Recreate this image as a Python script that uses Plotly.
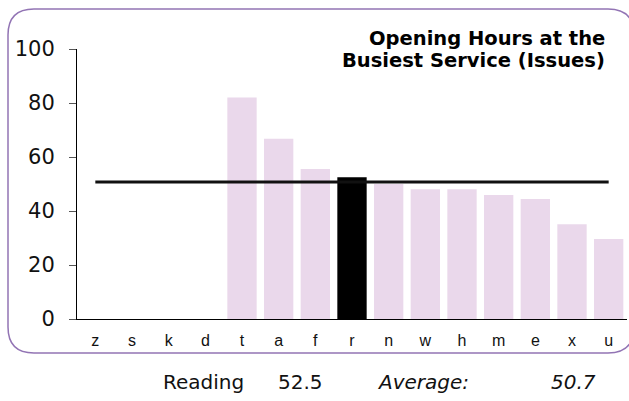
import plotly.graph_objects as go

categories = ["z", "s", "k", "d", "t", "a", "f", "r", "n", "w", "h", "m", "e", "x", "u"]
values = [0, 0, 0, 0, 82.0, 66.8, 55.6, 52.5, 50.0, 48.1, 48.1, 45.9, 44.4, 35.1, 29.6]
highlight = "r"
reading_value = 52.5
average_value = 50.7
y_ticks = [0, 20, 40, 60, 80, 100]
title_lines = ["Opening Hours at the", "Busiest Service (Issues)"]

W, H = 629, 401
L, R, T, B = 77, 2, 49, 82
PW, PH = W - L - R, H - T - B


def px(x):
    return (x - L) / PW


def py(y):
    return (H - B - y) / PH


PINK = "#EAD8EB"
bar_colors = ["#000000" if c == highlight else PINK for c in categories]

fig = go.Figure()
fig.add_trace(go.Bar(x=categories, y=values, marker=dict(color=bar_colors, line=dict(width=0)),
                     showlegend=False, hoverinfo="skip"))
fig.add_trace(go.Scatter(x=categories, y=[average_value] * len(categories), mode="lines",
                         line=dict(color="#111111", width=3), showlegend=False, hoverinfo="skip"))

# rounded border
x0, y0, x1, y1, r = 8, 9, 634, 353, 26
path = (f"M {px(x0 + r)},{py(y0)} L {px(x1 - r)},{py(y0)} "
        f"Q {px(x1)},{py(y0)} {px(x1)},{py(y0 + r)} L {px(x1)},{py(y1 - r)} "
        f"Q {px(x1)},{py(y1)} {px(x1 - r)},{py(y1)} L {px(x0 + r)},{py(y1)} "
        f"Q {px(x0)},{py(y1)} {px(x0)},{py(y1 - r)} L {px(x0)},{py(y0 + r)} "
        f"Q {px(x0)},{py(y0)} {px(x0 + r)},{py(y0)} Z")
fig.add_shape(type="path", path=path, xref="paper", yref="paper",
              line=dict(color="#9274B4", width=1.5), layer="below")

ann = []
for i, (line, yc) in enumerate(zip(title_lines, [38, 60])):
    ann.append(dict(text=f"<b>{line}</b>", x=px(607), y=py(yc), xref="paper", yref="paper",
                    xanchor="right", yanchor="middle", showarrow=False,
                    font=dict(family="DejaVu Sans", size=19.5, color="#000000")))
by = 382
ann.append(dict(text="Reading", x=px(161), y=py(by), xref="paper", yref="paper", xanchor="left",
                yanchor="middle", showarrow=False, font=dict(family="DejaVu Sans", size=20, color="#111")))
ann.append(dict(text=f"{reading_value}", x=px(325), y=py(by), xref="paper", yref="paper", xanchor="right",
                yanchor="middle", showarrow=False, font=dict(family="DejaVu Sans", size=20, color="#111")))
ann.append(dict(text="<i>Average:</i>", x=px(375), y=py(by), xref="paper", yref="paper", xanchor="left",
                yanchor="middle", showarrow=False, font=dict(family="DejaVu Sans", size=20, color="#111")))
ann.append(dict(text=f"<i>{average_value}</i>", x=px(598), y=py(by), xref="paper", yref="paper", xanchor="right",
                yanchor="middle", showarrow=False, font=dict(family="DejaVu Sans", size=20, color="#111")))

fig.update_layout(
    width=W, height=H, margin=dict(l=L, r=R, t=T, b=B, autoexpand=False),
    paper_bgcolor="white", plot_bgcolor="white", bargap=0.2,
    annotations=ann,
    xaxis=dict(type="category", categoryorder="array", categoryarray=categories,
               showline=True, linecolor="#000000", linewidth=1, showgrid=False, ticks="",
               tickfont=dict(family="Liberation Sans", size=16, color="#111"), zeroline=False,
               ticklabelstandoff=7),
    yaxis=dict(range=[0, 100], tickvals=y_ticks, showline=True, linecolor="#000000", linewidth=1,
               showgrid=False, zeroline=False, ticks="outside", ticklen=7, tickcolor="#555",
               tickfont=dict(family="DejaVu Sans", size=21, color="#111"), ticklabelstandoff=10),
)

fig.write_html("out.html", config={"displayModeBar": False, "staticPlot": True},
               post_script="document.body.style.margin='0';document.documentElement.style.overflow='hidden';")
